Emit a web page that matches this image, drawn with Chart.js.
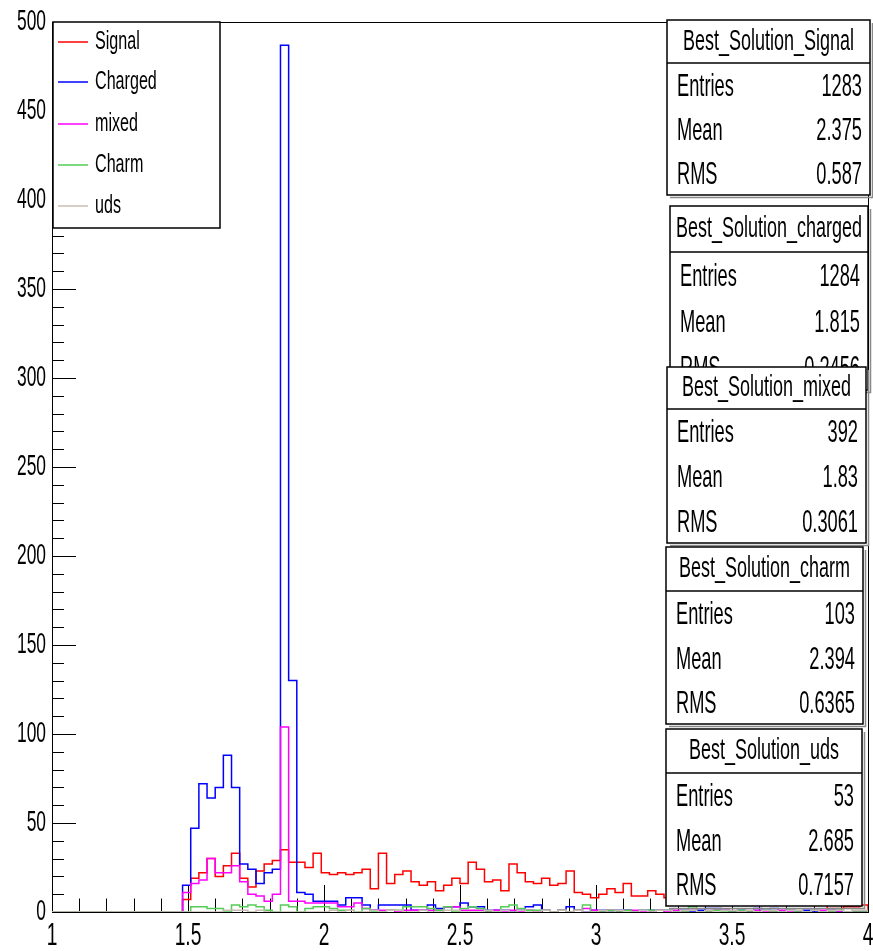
<!DOCTYPE html>
<html lang="en">
<head>
    <meta charset="UTF-8">
    <title>Best_Solution</title>
    <script src="https://cdn.jsdelivr.net/npm/chart.js"></script>
    <style>
        body { margin: 0; background: #fff; }
        #wrap { width: 873px; height: 951px; position: relative; }
    </style>
</head>
<body>
    <div id="wrap"><canvas id="hist"></canvas></div>

    <script>
        // histogram binning: 0.03 wide bins, first filled bin starts at 1.48
        const binStart = 1.48;
        const binWidth = 0.03;

        const signal = [7, 19, 22, 30, 20, 26, 33, 19, 14, 23, 27, 29, 35, 28, 28, 25, 33, 22, 21, 22,
            21, 22, 24, 13, 33, 16, 21, 23, 17, 15, 17, 12, 15, 19, 16, 28, 24, 17, 18, 12,
            27, 22, 17, 16, 19, 15, 16, 23, 11, 10, 8, 10, 13, 11, 16, 9, 9, 12, 10, 8,
            7, 9, 6, 7, 5, 8, 6, 5, 7, 5, 6, 4, 6, 5, 4, 5, 4, 6, 4, 2,
            2, 3, 3, 4];
        const charged = [15, 47, 72, 64, 70, 88, 70, 27, 24, 16, 22, 24, 487, 130, 11, 10, 6, 6, 6, 4,
            8, 8, 4, 1, 4, 4, 4, 4, 1, 1, 4, 2, 3, 3, 5, 3, 3, 1, 1, 1,
            0, 1, 3, 4, 1, 0, 1, 3, 1, 0, 1, 1, 0, 1, 1, 0, 1, 1, 1, 1,
            0, 1, 0, 1, 2, 2, 1, 0, 1, 0, 2, 1, 2, 0, 1, 0, 1, 0, 0, 1,
            0, 0, 0, 0];
        const mixed = [11, 16, 18, 30, 22, 22, 26, 17, 10, 9, 6, 10, 104, 6, 6, 5, 5, 5, 5, 3,
            3, 5, 2, 1, 1, 1, 0, 1, 1, 1, 1, 1, 3, 3, 1, 1, 1, 0, 1, 0,
            1, 0, 1, 0, 1, 0, 1, 0, 1, 2, 1, 0, 1, 0, 1, 1, 0, 0, 1, 0,
            1, 0, 1, 0, 0, 1, 1, 0, 0, 0, 1, 0, 0, 1, 0, 0, 0, 1, 1, 0,
            0, 0, 0, 0];
        const charm = [0, 3, 3, 2, 2, 0, 4, 3, 4, 3, 1, 0, 4, 3, 0, 2, 3, 3, 2, 1,
            1, 0, 2, 0, 0, 1, 1, 3, 3, 3, 2, 1, 3, 0, 2, 3, 2, 0, 0, 3,
            4, 2, 1, 1, 1, 0, 1, 0, 1, 4, 0, 0, 1, 0, 1, 0, 1, 1, 1, 1,
            0, 0, 3, 0, 0, 1, 0, 0, 1, 0, 0, 1, 0, 0, 1, 0, 0, 1, 0, 0,
            1, 0, 0, 0];
        const uds = [0, 0, 0, 0, 0, 1, 1, 1, 0, 1, 0, 0, 0, 0, 0, 0, 0, 0, 1, 0,
            1, 0, 0, 1, 0, 1, 1, 0, 0, 1, 0, 0, 1, 1, 0, 0, 0, 1, 0, 1,
            0, 1, 0, 0, 1, 0, 1, 0, 1, 0, 0, 1, 0, 1, 0, 0, 1, 0, 1, 1,
            0, 1, 1, 0, 1, 0, 1, 1, 0, 1, 0, 1, 1, 0, 1, 1, 0, 1, 0, 1,
            1, 0, 1, 1];

        const seriesNames = ['Signal', 'Charged', 'mixed', 'Charm', 'uds'];
        const seriesValues = [signal, charged, mixed, charm, uds];
        const seriesColors = ['#ff0000', '#0000ff', '#ff00ff', '#55cc55', '#c8beb4'];

        const xTicks = [1, 1.5, 2, 2.5, 3, 3.5, 4];
        const yTicks = [0, 50, 100, 150, 200, 250, 300, 350, 400, 450, 500];

        const statTitles = ['Best_Solution_Signal', 'Best_Solution_charged', 'Best_Solution_mixed',
            'Best_Solution_charm', 'Best_Solution_uds'];
        const statEntries = ['1283', '1284', '392', '103', '53'];
        const statMean = ['2.375', '1.815', '1.83', '2.394', '2.685'];
        const statRms = ['0.587', '0.2456', '0.3061', '0.6365', '0.7157'];

        const FONT = '"Liberation Sans", Arial, sans-serif';

        // ROOT-like text is narrow, so squeeze it horizontally
        function narrowText(ctx, str, x, y, size, align, sx) {
            ctx.save();
            ctx.translate(x, y);
            ctx.scale(sx, 1);
            ctx.font = size + 'px ' + FONT;
            ctx.textAlign = align;
            ctx.textBaseline = 'middle';
            ctx.fillStyle = '#000';
            ctx.fillText(str, 0, 0);
            ctx.restore();
        }

        // outline of a histogram as step points
        function histPoints(vals) {
            const pts = [{x: 1, y: 0}];
            vals.forEach((v, i) => pts.push({x: binStart + i * binWidth, y: v}));
            const end = binStart + vals.length * binWidth;
            pts.push({x: end, y: vals[vals.length - 1]});
            pts.push({x: end, y: 0});
            return pts;
        }

        const framePlugin = {
            id: 'rootFrame',
            beforeDatasetsDraw(chart) {
                const {ctx, chartArea: a, scales: {x, y}} = chart;
                ctx.save();
                ctx.strokeStyle = '#000';
                ctx.lineWidth = 1;
                ctx.strokeRect(a.left + 0.5, a.top + 0.5, a.right - a.left, a.bottom - a.top);
                ctx.beginPath();
                for (let v = 1; v <= 4.0001; v += 0.1) {
                    const px = Math.round(x.getPixelForValue(v)) + 0.5;
                    const major = Math.abs(v * 2 - Math.round(v * 2)) < 1e-6;
                    ctx.moveTo(px, a.bottom);
                    ctx.lineTo(px, a.bottom - (major ? 27 : 13.5));
                }
                for (let v = 0; v <= 500; v += 10) {
                    const py = Math.round(y.getPixelForValue(v)) + 0.5;
                    ctx.moveTo(a.left, py);
                    ctx.lineTo(a.left + (v % 50 === 0 ? 24 : 12), py);
                }
                ctx.stroke();
                ctx.restore();
            },
            afterDraw(chart) {
                const {ctx, chartArea: a, scales: {x, y}} = chart;
                // axis labels
                xTicks.forEach(v => narrowText(ctx, String(v), x.getPixelForValue(v), a.bottom + 24, 32, 'center', 0.6));
                yTicks.forEach(v => narrowText(ctx, String(v), a.left - 6, y.getPixelForValue(v), 29, 'right', 0.6));

                // legend
                ctx.save();
                ctx.fillStyle = '#fff';
                ctx.fillRect(53, 22, 167, 206);
                ctx.strokeStyle = '#000';
                ctx.lineWidth = 1.5;
                ctx.strokeRect(53, 22, 167, 206);
                ctx.restore();
                const rowsY = [42, 82, 124, 165, 206];
                seriesNames.forEach((name, i) => {
                    ctx.save();
                    ctx.strokeStyle = seriesColors[i];
                    ctx.lineWidth = 1.5;
                    ctx.beginPath();
                    ctx.moveTo(58, rowsY[i]);
                    ctx.lineTo(88, rowsY[i]);
                    ctx.stroke();
                    ctx.restore();
                    narrowText(ctx, name, 95, rowsY[i], 26, 'left', 0.62);
                });

                // stat boxes
                const boxes = [
                    {l: 667, r: 870, t: 20, s: 63, b: 195},
                    {l: 670, r: 868, t: 206, s: 252, b: 390},
                    {l: 667, r: 866, t: 367, s: 409, b: 543},
                    {l: 666, r: 863, t: 547, s: 591, b: 724},
                    {l: 666, r: 862, t: 729, s: 773, b: 906}
                ];
                boxes.forEach((bx, i) => {
                    ctx.save();
                    ctx.fillStyle = '#fff';
                    ctx.fillRect(bx.l, bx.t, bx.r - bx.l, bx.b - bx.t);
                    ctx.strokeStyle = '#000';
                    ctx.lineWidth = 1.5;
                    ctx.strokeRect(bx.l, bx.t, bx.r - bx.l, bx.b - bx.t);
                    ctx.beginPath();
                    ctx.moveTo(bx.l, bx.s);
                    ctx.lineTo(bx.r, bx.s);
                    ctx.stroke();
                    ctx.strokeStyle = '#888';
                    ctx.beginPath();
                    ctx.moveTo(bx.l + 3, bx.b + 2.5);
                    ctx.lineTo(bx.r + 2.5, bx.b + 2.5);
                    ctx.lineTo(bx.r + 2.5, bx.t + 3);
                    ctx.stroke();
                    ctx.restore();
                    narrowText(ctx, statTitles[i], (bx.l + bx.r) / 2, (bx.t + bx.s) / 2, 30, 'center', 0.6);
                    const h = (bx.b - bx.s) / 3;
                    const labels = ['Entries', 'Mean', 'RMS'];
                    const vals = [statEntries[i], statMean[i], statRms[i]];
                    labels.forEach((lab, j) => {
                        const cy = bx.s + (j + 0.55) * h;
                        narrowText(ctx, lab, bx.l + 10, cy, 32, 'left', 0.57);
                        narrowText(ctx, vals[j], bx.r - 8, cy, 32, 'right', 0.57);
                    });
                });
            }
        };

        const ctx = document.getElementById('hist').getContext('2d');
        new Chart(ctx, {
            type: 'line',
            data: {
                datasets: seriesValues.map((vals, i) => ({
                    label: seriesNames[i],
                    data: histPoints(vals),
                    borderColor: seriesColors[i],
                    borderWidth: 1.5,
                    stepped: true,
                    pointRadius: 0,
                    fill: false,
                    order: seriesValues.length - i
                }))
            },
            options: {
                responsive: true,
                maintainAspectRatio: false,
                animation: false,
                events: [],
                layout: {padding: {left: 52, right: 5, top: 22, bottom: 39}},
                plugins: {legend: {display: false}, tooltip: {enabled: false}},
                scales: {
                    x: {type: 'linear', min: 1, max: 4, display: false},
                    y: {min: 0, max: 500, display: false}
                }
            },
            plugins: [framePlugin]
        });
    </script>
</body>
</html>
